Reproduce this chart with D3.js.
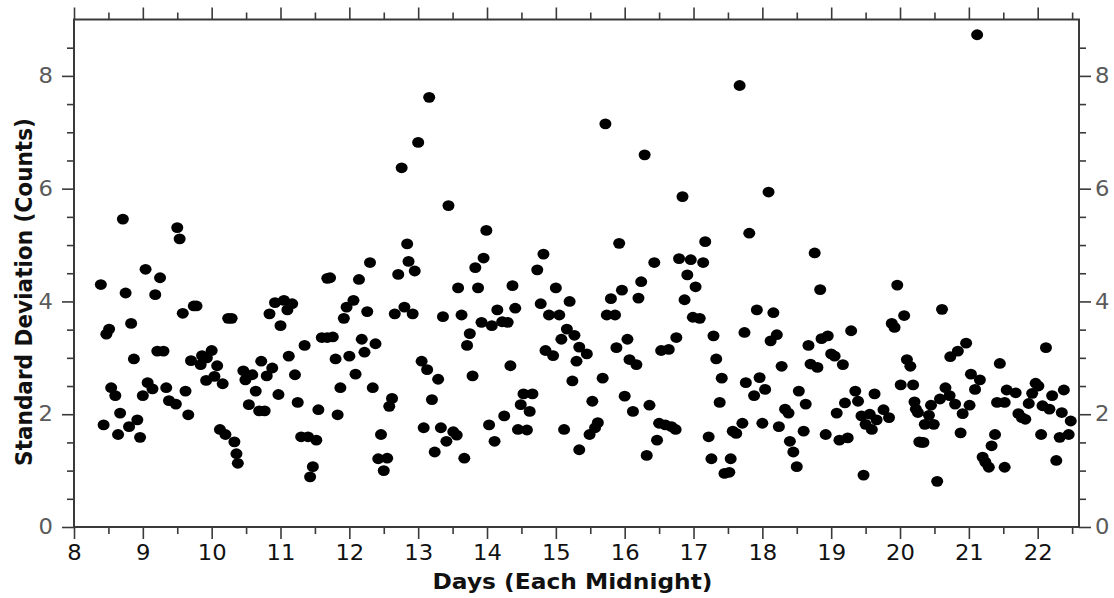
<!DOCTYPE html>
<html>
<head>
<meta charset="utf-8">
<script src="https://cdn.jsdelivr.net/npm/d3@7/dist/d3.min.js"></script>
<style>
    body { margin: 0; background: #fff; }
    text { font-family: "DejaVu Sans", sans-serif; }
</style>
</head>
<body>
<script>
// days since start (each midnight) and standard deviation (counts)
var days = [
    8.71, 9.50, 9.535, 9.04, 9.25, 8.39, 8.75, 9.18, 9.58, 9.74, 9.78, 10.24, 10.29, 8.51, 8.47, 8.83,
    8.87, 9.21, 9.30, 9.70, 9.86, 9.93, 10.00, 9.84, 10.08, 9.92, 10.04, 10.16, 8.54, 8.60, 9.07, 9.14,
    9.00, 9.34, 9.62, 9.38, 9.48, 9.66, 8.67, 8.43, 8.64, 8.80, 8.92, 8.96, 10.12, 10.20, 10.33, 10.36, 10.38,
    12.76, 12.84, 12.86, 12.30, 12.71, 11.68, 11.72, 12.14, 10.92, 11.05, 11.17, 11.10, 10.84, 11.00,
    12.06, 11.96, 11.92, 12.26, 12.66, 12.80, 11.60, 11.68, 11.76, 11.35, 12.18, 12.38, 12.22, 12.00,
    11.80, 11.12, 10.72, 10.46, 10.59, 10.49, 10.88, 10.80, 11.21, 12.09, 10.64, 10.97, 11.87, 12.34,
    12.62, 12.58, 10.54, 10.69, 10.77, 11.25, 11.55, 11.83, 11.30, 11.40, 11.52, 12.46, 12.42, 12.55,
    12.50, 11.47, 11.43,
    12.95, 12.92, 13.16, 13.00, 13.44, 13.99, 13.95, 13.83, 14.82, 14.73, 13.58, 13.87, 14.37, 15.00,
    14.41, 14.15, 13.36, 13.63, 13.92, 14.07, 14.22, 14.30, 14.78, 14.90, 15.05, 15.20, 13.75, 13.71,
    15.16, 15.27, 15.08, 15.34, 14.85, 14.96, 15.30, 14.34, 13.05, 13.13, 13.29, 13.79, 15.24, 13.20,
    14.53, 14.66, 14.49, 14.62, 14.25, 14.03, 13.08, 13.33, 13.51, 13.56, 14.45, 14.58, 15.12, 13.41,
    14.11, 13.24, 13.67, 15.34,
    15.45, 17.67, 15.72, 16.29, 16.84, 17.81, 15.92, 17.17, 16.43, 16.79, 16.96, 17.14, 16.91, 17.03,
    16.24, 15.96, 15.80, 16.20, 16.87, 15.74, 15.86, 16.99, 17.09, 17.74, 17.29, 16.75, 16.53, 16.64,
    16.04, 15.88, 16.07, 16.17, 17.33, 15.68, 17.41, 17.76, 15.53, 16.00, 16.12, 16.36, 17.38, 15.61,
    15.57, 15.49, 16.50, 16.59, 16.68, 16.74, 16.47, 17.71, 17.57, 17.62, 17.22, 16.32, 17.26, 17.54,
    17.45, 17.52,
    18.09, 18.76, 18.84, 19.96, 20.06, 17.92, 18.16, 19.88, 19.92, 18.21, 18.12, 18.86, 18.95, 19.29,
    18.67, 19.00, 19.05, 19.17, 18.70, 18.80, 18.28, 20.10, 20.15, 17.96, 18.04, 17.88, 18.53, 18.63,
    18.33, 18.38, 19.35, 19.39, 19.63, 19.20, 19.08, 19.44, 19.56, 19.50, 19.59, 19.66, 19.76, 19.84,
    20.01, 20.19, 20.23, 18.00, 18.24, 18.60, 18.92, 19.12, 19.24, 18.40, 18.45, 18.50, 19.47, 20.28,
    21.12, 20.61, 20.96, 20.84, 20.73, 22.12, 21.45, 21.03, 21.16, 21.09, 20.66, 20.72, 20.80, 20.58,
    20.45, 21.01, 20.91, 20.21, 20.26, 20.42, 20.36, 20.49, 20.31, 20.34, 20.88, 20.54, 21.55, 21.68,
    21.41, 21.52, 21.72, 21.77, 21.82, 21.87, 21.92, 21.97, 22.01, 22.07, 22.17, 22.21, 22.38, 22.35,
    22.48, 22.05, 22.32, 22.45, 22.27, 21.38, 21.33, 21.20, 21.24, 21.29, 21.52
];
var stdev = [
    5.46, 5.31, 5.11, 4.57, 4.42, 4.30, 4.15, 4.12, 3.79, 3.92, 3.92, 3.70, 3.70, 3.51, 3.42, 3.61,
    2.98, 3.12, 3.12, 2.95, 3.04, 3.00, 3.13, 2.88, 2.86, 2.60, 2.67, 2.54, 2.47, 2.33, 2.56, 2.45,
    2.33, 2.47, 2.41, 2.24, 2.18, 1.99, 2.02, 1.81, 1.64, 1.78, 1.90, 1.59, 1.73, 1.64, 1.51, 1.30, 1.13,
    6.37, 5.02, 4.71, 4.69, 4.48, 4.41, 4.42, 4.39, 3.98, 4.02, 3.96, 3.85, 3.78, 3.57,
    4.02, 3.90, 3.70, 3.82, 3.78, 3.90, 3.36, 3.36, 3.37, 3.22, 3.33, 3.25, 3.10, 3.03,
    2.98, 3.03, 2.94, 2.77, 2.70, 2.61, 2.82, 2.68, 2.70, 2.71, 2.41, 2.35, 2.47, 2.47,
    2.28, 2.14, 2.17, 2.06, 2.06, 2.21, 2.08, 1.99, 1.60, 1.60, 1.54, 1.64, 1.21, 1.22,
    1.00, 1.07, 0.89,
    4.54, 3.78, 7.62, 6.82, 5.70, 5.26, 4.77, 4.60, 4.84, 4.56, 4.24, 4.24, 4.28, 4.24,
    3.88, 3.85, 3.73, 3.76, 3.63, 3.57, 3.64, 3.63, 3.96, 3.76, 3.76, 4.00, 3.43, 3.22,
    3.51, 3.40, 3.33, 3.19, 3.13, 3.04, 2.94, 2.86, 2.94, 2.79, 2.62, 2.68, 2.59, 2.26,
    2.36, 2.36, 2.17, 2.05, 1.97, 1.81, 1.76, 1.76, 1.69, 1.63, 1.73, 1.72, 1.73, 1.52,
    1.52, 1.33, 1.22, 1.37,
    3.07, 7.83, 7.15, 6.60, 5.86, 5.21, 5.03, 5.06, 4.69, 4.76, 4.74, 4.69, 4.47, 4.26,
    4.35, 4.20, 4.05, 4.06, 4.03, 3.76, 3.76, 3.72, 3.70, 3.45, 3.39, 3.36, 3.13, 3.15,
    3.33, 3.18, 2.97, 2.88, 2.98, 2.64, 2.64, 2.56, 2.23, 2.32, 2.05, 2.16, 2.21, 1.85,
    1.76, 1.64, 1.84, 1.81, 1.78, 1.73, 1.54, 1.84, 1.70, 1.66, 1.60, 1.27, 1.21, 1.21,
    0.95, 0.97,
    5.94, 4.86, 4.21, 4.29, 3.75, 3.85, 3.80, 3.61, 3.54, 3.41, 3.30, 3.34, 3.39, 3.48,
    3.22, 3.07, 3.03, 2.88, 2.89, 2.83, 2.85, 2.97, 2.85, 2.65, 2.44, 2.33, 2.41, 2.18,
    2.09, 2.02, 2.41, 2.23, 2.36, 2.20, 2.02, 1.97, 2.00, 1.82, 1.73, 1.90, 2.08, 1.94,
    2.52, 2.52, 2.09, 1.84, 1.78, 1.70, 1.64, 1.54, 1.58, 1.52, 1.33, 1.07, 0.92, 1.51,
    8.73, 3.86, 3.26, 3.12, 3.02, 3.18, 2.90, 2.71, 2.61, 2.44, 2.47, 2.33, 2.18, 2.27,
    2.16, 2.16, 2.01, 2.22, 2.03, 1.98, 1.82, 1.82, 1.50, 1.50, 1.67, 0.81, 2.43, 2.38,
    2.21, 2.21, 2.01, 1.94, 1.91, 2.19, 2.37, 2.55, 2.50, 2.15, 2.09, 2.33, 2.43, 2.03,
    1.88, 1.64, 1.59, 1.64, 1.18, 1.64, 1.44, 1.24, 1.15, 1.06, 1.06
];
var xTickValues = [8, 9, 10, 11, 12, 13, 14, 15, 16, 17, 18, 19, 20, 21, 22];
var xMinorValues = [8.5, 9.5, 10.5, 11.5, 12.5, 13.5, 14.5, 15.5, 16.5, 17.5, 18.5, 19.5, 20.5, 21.5, 22.5];
var yTickValues = [0, 2, 4, 6, 8];
var yMinorValues = [0.5, 1, 1.5, 2.5, 3, 3.5, 4.5, 5, 5.5, 6.5, 7, 7.5, 8.5];

var svg_width = 1114;
var svg_height = 598;
var plotLeft = 74, plotRight = 1079, plotTop = 19.5, plotBottom = 527;
var axisColor = "#3a3a3a";
var stretch = 1.08;   // the original text is a bit wider than tall

var svg = d3.select("body")
    .append("svg")
    .attr("width", svg_width)
    .attr("height", svg_height);

var x = d3.scaleLinear().domain([8, 22.6]).range([plotLeft, plotRight]);
var y = d3.scaleLinear().domain([0, 9]).range([plotBottom, plotTop]);

// axes: major + minor ticks on all four sides, outward
function styleAxis(g, color) {
    g.select(".domain").remove();
    g.selectAll("line").attr("stroke", axisColor).attr("stroke-width", 1.6);
    g.selectAll("text")
        .attr("font-size", 21)
        .attr("fill", color)
        .attr("transform", function () {
            var tx = +d3.select(this).attr("x") || 0;
            return "translate(" + tx + ",0) scale(" + stretch + ",1) translate(" + (-tx) + ",0)";
        });
}
var blank = function () { return ""; };

svg.append("g").attr("transform", "translate(0," + plotBottom + ")")
    .call(d3.axisBottom(x).tickValues(xTickValues).tickSize(12).tickPadding(6).tickFormat(d3.format("d")))
    .call(styleAxis, "#111");
svg.append("g").attr("transform", "translate(0," + plotBottom + ")")
    .call(d3.axisBottom(x).tickValues(xMinorValues).tickSize(7).tickFormat(blank))
    .call(styleAxis, "#111");
svg.append("g").attr("transform", "translate(0," + plotTop + ")")
    .call(d3.axisTop(x).tickValues(xTickValues).tickSize(12).tickFormat(blank))
    .call(styleAxis, "#111");
svg.append("g").attr("transform", "translate(0," + plotTop + ")")
    .call(d3.axisTop(x).tickValues(xMinorValues).tickSize(7).tickFormat(blank))
    .call(styleAxis, "#111");

svg.append("g").attr("transform", "translate(" + plotLeft + ",0)")
    .call(d3.axisLeft(y).tickValues(yTickValues).tickSize(12).tickPadding(9).tickFormat(d3.format("d")))
    .call(styleAxis, "#5a5a5a");
svg.append("g").attr("transform", "translate(" + plotLeft + ",0)")
    .call(d3.axisLeft(y).tickValues(yMinorValues).tickSize(7).tickFormat(blank))
    .call(styleAxis, "#5a5a5a");
svg.append("g").attr("transform", "translate(" + plotRight + ",0)")
    .call(d3.axisRight(y).tickValues(yTickValues).tickSize(12).tickPadding(4).tickFormat(d3.format("d")))
    .call(styleAxis, "#5a5a5a");
svg.append("g").attr("transform", "translate(" + plotRight + ",0)")
    .call(d3.axisRight(y).tickValues(yMinorValues).tickSize(7).tickFormat(blank))
    .call(styleAxis, "#5a5a5a");

// frame
svg.append("rect")
    .attr("x", plotLeft).attr("y", plotTop)
    .attr("width", plotRight - plotLeft).attr("height", plotBottom - plotTop)
    .attr("fill", "none")
    .attr("stroke", axisColor)
    .attr("stroke-width", 2);

// points
var points = days.map(function (d, i) {
    return { day: d, sd: stdev[i] };
});
svg.selectAll("ellipse")
    .data(points)
    .enter()
    .append("ellipse")
    .attr("cx", function (d) { return x(d.day); })
    .attr("cy", function (d) { return y(d.sd); })
    .attr("rx", 6)
    .attr("ry", 5.4)
    .attr("fill", "#000");

// titles
svg.append("text")
    .attr("transform", "translate(" + ((plotLeft + plotRight) / 2 - 4) + ",589) scale(" + stretch + ",1)")
    .attr("text-anchor", "middle")
    .attr("font-size", 21.6)
    .attr("font-weight", "bold")
    .attr("fill", "#111")
    .text("Days (Each Midnight)");

svg.append("text")
    .attr("transform", "translate(32,292) scale(" + stretch + ",1) rotate(-90)")
    .attr("text-anchor", "middle")
    .attr("font-size", 21.6)
    .attr("font-weight", "bold")
    .attr("fill", "#111")
    .text("Standard Deviation (Counts)");
</script>
</body>
</html>
